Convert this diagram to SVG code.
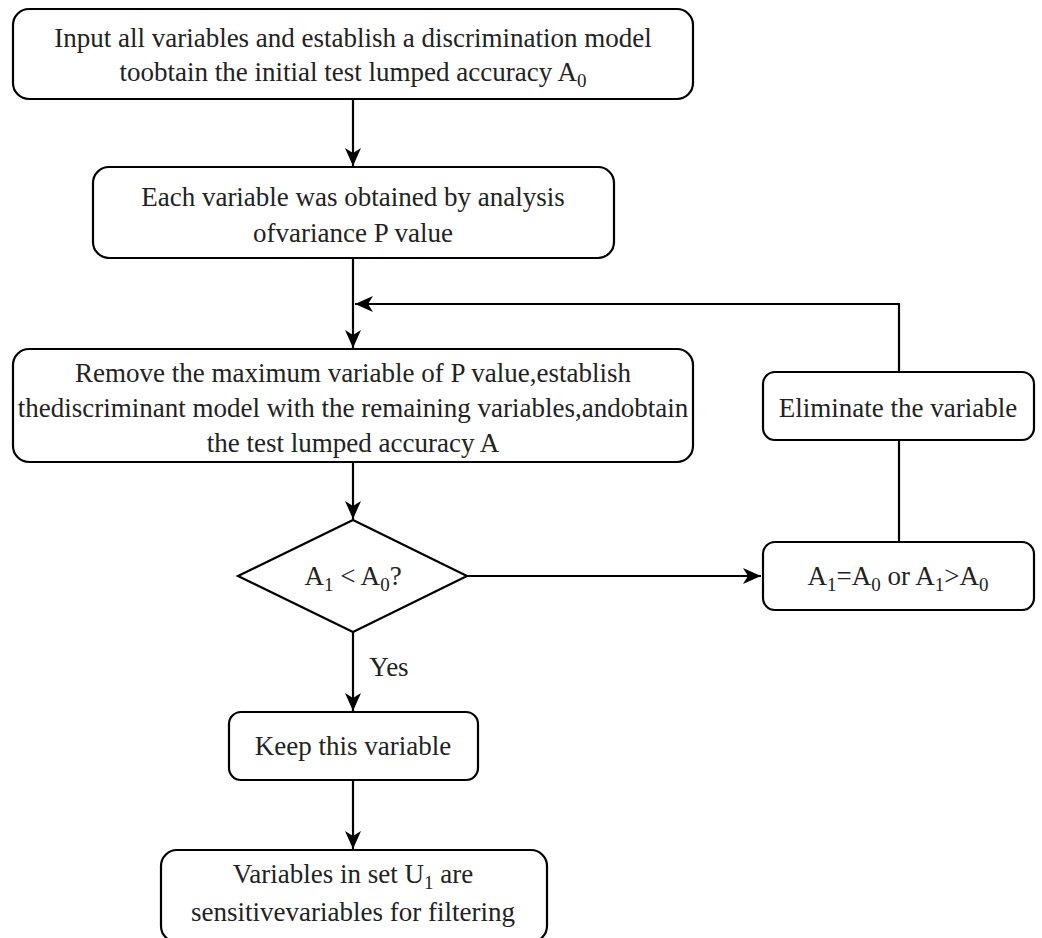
<svg xmlns="http://www.w3.org/2000/svg" width="1042" height="938" viewBox="0 0 1042 938">
<style>
.box{fill:#fff;stroke:#000;stroke-width:2.2}
.ln{fill:none;stroke:#000;stroke-width:2.2}
.t{font-family:'Liberation Serif','DejaVu Serif',serif;font-size:27px;fill:#222;text-anchor:middle}
.sub{font-size:19px}
</style>
<defs>
<marker id="arr" markerUnits="userSpaceOnUse" markerWidth="20" markerHeight="18" refX="18" refY="9" orient="auto">
<path d="M0,1 L18,9 L0,17 L5,9 z" fill="#000"/>
</marker>
</defs>
<rect width="1042" height="938" fill="#fff"/>
<g id="connectors">
<path class="ln" d="M353,99 V166" marker-end="url(#arr)"/>
<path class="ln" d="M353,258 V348" marker-end="url(#arr)"/>
<path class="ln" d="M899,372 V304 H355" marker-end="url(#arr)"/>
<path class="ln" d="M353,462 V519" marker-end="url(#arr)"/>
<path class="ln" d="M467,576 H761" marker-end="url(#arr)"/>
<path class="ln" d="M899,542 V440"/>
<path class="ln" d="M353,632 V711" marker-end="url(#arr)"/>
<path class="ln" d="M353,780 V849" marker-end="url(#arr)"/>
<text class="t" x="389" y="676">Yes</text>
</g>
<g id="n1">
<rect class="box" x="13" y="9" width="680" height="90" rx="16"/>
<text class="t" x="353" y="47">Input all variables and establish a discrimination model</text>
<text class="t" x="353" y="81">toobtain the initial test lumped accuracy A<tspan class="sub" dy="6">0</tspan></text>
</g>
<g id="n2">
<rect class="box" x="93" y="167" width="521" height="91" rx="16"/>
<text class="t" x="353" y="206">Each variable was obtained by analysis</text>
<text class="t" x="353" y="242">ofvariance P value</text>
</g>
<g id="n3">
<rect class="box" x="13" y="349" width="680" height="113" rx="16"/>
<text class="t" x="353" y="382">Remove the maximum variable of P value,establish</text>
<text class="t" x="353" y="417">thediscriminant model with the remaining variables,andobtain</text>
<text class="t" x="353" y="452">the test lumped accuracy A</text>
</g>
<g id="n4">
<polygon class="box" points="353,520 467,576 353,632 238,576"/>
<text class="t" x="353" y="585">A<tspan class="sub" dy="6">1</tspan><tspan dy="-6"> &lt; A</tspan><tspan class="sub" dy="6">0</tspan><tspan dy="-6">?</tspan></text>
</g>
<g id="n5">
<rect class="box" x="763" y="542" width="271" height="68" rx="12"/>
<text class="t" x="898" y="585">A<tspan class="sub" dy="6">1</tspan><tspan dy="-6">=A</tspan><tspan class="sub" dy="6">0</tspan><tspan dy="-6"> or A</tspan><tspan class="sub" dy="6">1</tspan><tspan dy="-6">&gt;A</tspan><tspan class="sub" dy="6">0</tspan></text>
</g>
<g id="n6">
<rect class="box" x="763" y="372" width="271" height="68" rx="12"/>
<text class="t" x="898" y="417">Eliminate the variable</text>
</g>
<g id="n7">
<rect class="box" x="229" y="712" width="249" height="68" rx="12"/>
<text class="t" x="353" y="755">Keep this variable</text>
</g>
<g id="n8">
<rect class="box" x="161" y="850" width="386" height="92" rx="16"/>
<text class="t" x="353" y="883">Variables in set U<tspan class="sub" dy="6">1</tspan><tspan dy="-6"> are</tspan></text>
<text class="t" x="353" y="921">sensitivevariables for filtering</text>
</g>
</svg>
